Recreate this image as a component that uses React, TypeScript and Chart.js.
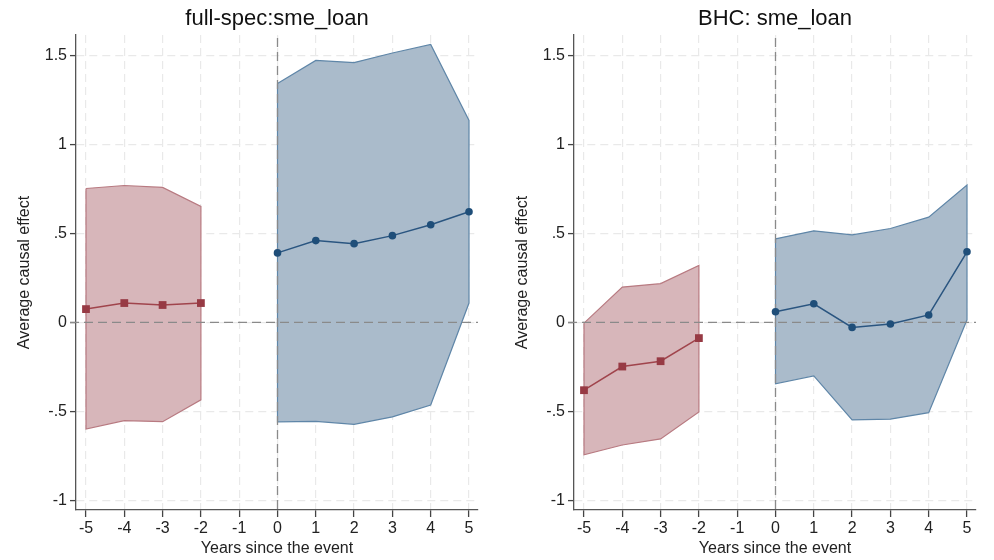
import React, { useEffect, useRef } from "react";
import { Chart, registerables } from "chart.js";

Chart.register(...registerables);

// ---- data ----
const preYears = [-5, -4, -3, -2];
const postYears = [0, 1, 2, 3, 4, 5];
const xTicks = [-5, -4, -3, -2, -1, 0, 1, 2, 3, 4, 5];
const yTicks = [-1, -0.5, 0, 0.5, 1, 1.5];

// full-spec:sme_loan
const fsPreEst = [0.075, 0.109, 0.098, 0.109];
const fsPreHi = [0.753, 0.77, 0.759, 0.652];
const fsPreLo = [-0.599, -0.552, -0.558, -0.435];
const fsPostEst = [0.391, 0.46, 0.443, 0.488, 0.549, 0.622];
const fsPostHi = [1.343, 1.473, 1.461, 1.515, 1.563, 1.136];
const fsPostLo = [-0.559, -0.556, -0.573, -0.531, -0.464, 0.109];

// BHC: sme_loan
const bhcPreEst = [-0.381, -0.248, -0.218, -0.088];
const bhcPreHi = [-0.004, 0.199, 0.218, 0.321];
const bhcPreLo = [-0.744, -0.689, -0.655, -0.503];
const bhcPostEst = [0.06, 0.105, -0.028, -0.009, 0.042, 0.397];
const bhcPostHi = [0.47, 0.515, 0.492, 0.528, 0.592, 0.772];
const bhcPostLo = [-0.345, -0.3, -0.548, -0.544, -0.507, 0.015];

const FONT = "'Liberation Sans', Arial, sans-serif";

function band(xs: number[], hi: number[], lo: number[]) {
  const top = xs.map((x, i) => ({ x, y: hi[i] }));
  const bot = xs.map((x, i) => ({ x, y: lo[i] })).reverse();
  return [...top, ...bot, top[0]];
}
function pts(xs: number[], ys: number[]) {
  return xs.map((x, i) => ({ x, y: ys[i] }));
}

const refLinePlugin = {
  id: "refLines",
  beforeDraw(chart: any) {
    chart.$refDrawn = false;
  },
  beforeDatasetDraw(chart: any, args: any) {
    const ds = chart.data.datasets[args.index];
    if (!ds.isEst || chart.$refDrawn) return;
    chart.$refDrawn = true;
    const { ctx, chartArea, scales } = chart;
    const y0 = scales.y.getPixelForValue(0);
    const x0 = scales.x.getPixelForValue(0);
    ctx.save();
    ctx.strokeStyle = "#8a8a8a";
    ctx.lineWidth = 1.3;
    ctx.setLineDash([9, 5]);
    ctx.beginPath();
    ctx.moveTo(chartArea.left - 6, y0);
    ctx.lineTo(chartArea.right, y0);
    ctx.stroke();
    ctx.beginPath();
    ctx.moveTo(x0, chartArea.top + 3);
    ctx.lineTo(x0, chartArea.bottom);
    ctx.stroke();
    ctx.restore();
  },
};

const titlePlugin = {
  id: "areaTitle",
  afterDraw(chart: any, _a: any, opts: any) {
    const { ctx, chartArea } = chart;
    ctx.save();
    ctx.font = `22px ${FONT}`;
    ctx.fillStyle = "#111";
    ctx.textAlign = "center";
    ctx.textBaseline = "middle";
    ctx.fillText(opts.text, (chartArea.left + chartArea.right) / 2, 19);
    ctx.restore();
  },
};

function Panel(props: {
  title: string;
  preEst: number[];
  preHi: number[];
  preLo: number[];
  postEst: number[];
  postHi: number[];
  postLo: number[];
}) {
  const ref = useRef<HTMLCanvasElement>(null);
  useEffect(() => {
    const chart = new Chart(ref.current as HTMLCanvasElement, {
      type: "scatter",
      data: {
        datasets: [
          {
            data: band(preYears, props.preHi, props.preLo),
            showLine: true,
            fill: "shape",
            backgroundColor: "rgba(215,182,186,1)",
            borderColor: "#b87a81",
            borderWidth: 1.2,
            pointRadius: 0,
            tension: 0,
            order: 3,
          } as any,
          {
            data: band(postYears, props.postHi, props.postLo),
            showLine: true,
            fill: "shape",
            backgroundColor: "rgba(170,187,203,1)",
            borderColor: "#5f86a8",
            borderWidth: 1.2,
            pointRadius: 0,
            tension: 0,
            order: 3,
          } as any,
          {
            data: pts(preYears, props.preEst),
            isEst: true,
            showLine: true,
            borderColor: "#a0444c",
            backgroundColor: "#973a44",
            borderWidth: 1.5,
            pointStyle: "rect",
            pointRadius: 5.5,
            pointBorderWidth: 0,
            tension: 0,
            order: 1,
          } as any,
          {
            data: pts(postYears, props.postEst),
            isEst: true,
            showLine: true,
            borderColor: "#2a5580",
            backgroundColor: "#1f4e79",
            borderWidth: 1.5,
            pointStyle: "circle",
            pointRadius: 3.8,
            pointBorderWidth: 0,
            tension: 0,
            order: 1,
          } as any,
        ],
      },
      options: {
        animation: false,
        responsive: false,
        events: [],
        layout: { padding: { top: 35, right: 19, left: 0, bottom: 0 } },
        plugins: {
          legend: { display: false },
          tooltip: { enabled: false },
          title: { display: false },
          areaTitle: { text: props.title },
        } as any,
        scales: {
          x: {
            type: "linear",
            min: -5.261,
            max: 5.235,
            afterBuildTicks: (s: any) => {
              s.ticks = xTicks.map((v) => ({ value: v }));
            },
            afterFit: (s: any) => {
              s.height = 50;
            },
            grid: {
              color: "#e9e9e9",
              lineWidth: 1.2,
              tickColor: "#444",
              tickWidth: 1.3,
              tickLength: 7,
              tickBorderDash: [],
            } as any,
            border: { color: "#555", width: 1.3, dash: [8, 5] },
            ticks: {
              color: "#222",
              font: { family: FONT, size: 16 },
              padding: 2,
              maxRotation: 0,
              autoSkip: false,
              callback: (v: any) => String(v),
            },
            title: {
              display: true,
              text: "Years since the event",
              color: "#222",
              font: { family: FONT, size: 16 },
              padding: { top: 0, bottom: 2 },
            },
          },
          y: {
            type: "linear",
            min: -1.0545,
            max: 1.616,
            afterBuildTicks: (s: any) => {
              s.ticks = yTicks.map((v) => ({ value: v }));
            },
            afterFit: (s: any) => {
              s.width = 76;
            },
            grid: {
              color: "#e9e9e9",
              lineWidth: 1.2,
              tickColor: "#444",
              tickWidth: 1.3,
              tickLength: 6,
              tickBorderDash: [],
            } as any,
            border: { color: "#555", width: 1.3, dash: [8, 5] },
            ticks: {
              color: "#222",
              font: { family: FONT, size: 16 },
              padding: 3,
              autoSkip: false,
              callback: (v: any) =>
                v === 0 ? "0" : String(v).replace(/^(-?)0\./, "$1."),
            },
            title: {
              display: true,
              text: "Average causal effect",
              color: "#222",
              font: { family: FONT, size: 16 },
              padding: { top: 15, bottom: 0 },
            },
          },
        },
      },
      plugins: [refLinePlugin, titlePlugin],
    });
    return () => chart.destroy();
  }, []);
  return <canvas ref={ref} width={497} height={560} style={{ display: "block" }} />;
}

export default function App() {
  return (
    <div
      style={{
        position: "absolute",
        left: 0,
        top: 0,
        width: 994,
        height: 560,
        background: "#fff",
      }}
    >
      <div style={{ position: "absolute", left: 0, top: 0 }}>
        <Panel
          title="full-spec:sme_loan"
          preEst={fsPreEst}
          preHi={fsPreHi}
          preLo={fsPreLo}
          postEst={fsPostEst}
          postHi={fsPostHi}
          postLo={fsPostLo}
        />
      </div>
      <div style={{ position: "absolute", left: 498, top: 0 }}>
        <Panel
          title="BHC: sme_loan"
          preEst={bhcPreEst}
          preHi={bhcPreHi}
          preLo={bhcPreLo}
          postEst={bhcPostEst}
          postHi={bhcPostHi}
          postLo={bhcPostLo}
        />
      </div>
    </div>
  );
}
